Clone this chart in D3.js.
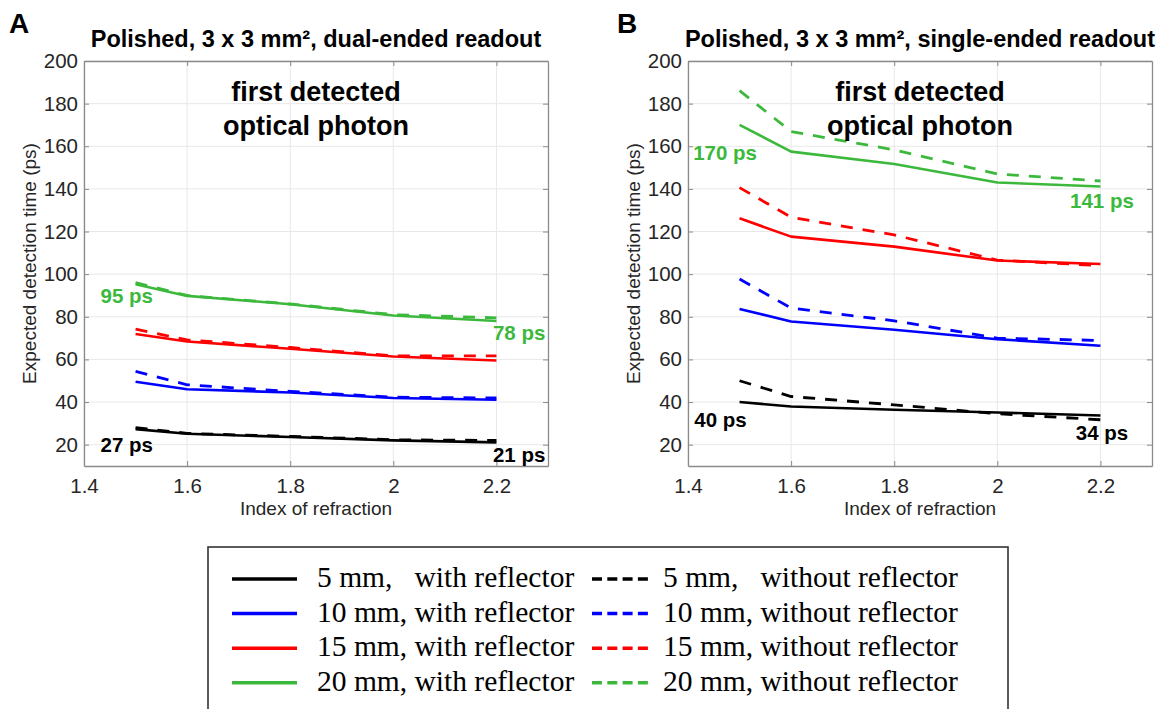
<!DOCTYPE html>
<html>
<head>
<meta charset="utf-8">
<script src="https://cdn.jsdelivr.net/npm/d3@7"></script>
<style>
  body { margin: 0; background: #fff; }
  svg text { font-family: "Liberation Sans", Arial, Helvetica, sans-serif; }
  .legend text { font-family: "Liberation Serif", "Times New Roman", serif; white-space: pre; }
</style>
</head>
<body>
<svg width="1167" height="709"></svg>
<script>
// index of refraction sampled in the simulation
const refIndex = [1.5, 1.6, 1.8, 2.0, 2.2];
const crystalLengths = ["5 mm", "10 mm", "15 mm", "20 mm"];
const seriesColors = ["#000000", "#0000ff", "#ff0000", "#3cb93c"];
const xTicks = [1.4, 1.6, 1.8, 2, 2.2];
const yTicks = [20, 40, 60, 80, 100, 120, 140, 160, 180, 200];

// expected detection time (ps), one row per crystal length
const dualWithReflector = [
  [27.3, 25.1, 23.6, 22.0, 21.1],
  [49.5, 46.0, 44.5, 41.9, 41.1],
  [71.9, 68.4, 65.0, 61.4, 59.5],
  [95.3, 89.8, 85.9, 80.6, 78.0]
];
const dualWithoutReflector = [
  [28.0, 25.3, 23.9, 22.3, 22.0],
  [54.4, 48.1, 45.0, 42.3, 41.9],
  [74.2, 69.2, 65.6, 61.7, 61.7],
  [96.0, 90.0, 86.0, 81.0, 79.5]
];
const singleWithReflector = [
  [40.0, 37.9, 36.4, 35.1, 33.7],
  [83.7, 77.8, 73.9, 69.5, 66.4],
  [126.2, 117.6, 112.9, 106.4, 104.8],
  [170.0, 157.5, 151.7, 143.0, 141.1]
];
const singleWithoutReflector = [
  [50.0, 42.6, 38.7, 34.5, 31.7],
  [97.7, 84.1, 78.1, 70.0, 68.9],
  [140.6, 126.7, 118.4, 106.6, 104.0],
  [186.1, 166.9, 158.3, 147.0, 143.7]
];

// value annotations: [x, y, text, series]
const dualLabels = [
  [1.483, 86.6, "95 ps", 3],
  [2.244, 69.2, "78 ps", 3],
  [1.483, 16.5, "27 ps", 0],
  [2.244, 11.8, "21 ps", 0]
];
const singleLabels = [
  [1.472, 153.7, "170 ps", 3],
  [2.203, 131.2, "141 ps", 3],
  [1.463, 28.4, "40 ps", 0],
  [2.203, 22.4, "34 ps", 0]
];

const svg = d3.select("svg");

function drawPanel(left, letter, letterX, title, withRef, withoutRef, labels) {
  const x = d3.scaleLinear().domain([1.4, 2.3]).range([left, left + 464]);
  const y = d3.scaleLinear().domain([10, 200]).range([466, 61]);
  const g = svg.append("g");

  // grid
  g.selectAll(".gx").data(xTicks).enter().append("line")
    .attr("x1", d => x(d)).attr("x2", d => x(d))
    .attr("y1", y(10)).attr("y2", y(200))
    .attr("stroke", "#e8e8e8").attr("stroke-width", 1);
  g.selectAll(".gy").data(yTicks).enter().append("line")
    .attr("x1", x(1.4)).attr("x2", x(2.3))
    .attr("y1", d => y(d)).attr("y2", d => y(d))
    .attr("stroke", "#e8e8e8").attr("stroke-width", 1);

  // axes, MATLAB style ticks pointing inward
  const axisStyle = sel => {
    sel.selectAll("path.domain").attr("stroke", "#8a8a8a").attr("stroke-width", 1.3);
    sel.selectAll(".tick line").attr("stroke", "#8a8a8a");
    sel.selectAll(".tick text").attr("fill", "#262626").style("font-size", "20.5px");
  };
  g.append("g").attr("transform", `translate(0,${y(10)})`)
    .call(d3.axisBottom(x).tickValues(xTicks).tickFormat(d3.format("")).tickSize(-5).tickSizeOuter(0).tickPadding(12))
    .call(axisStyle);
  g.append("g").attr("transform", `translate(0,${y(200)})`)
    .call(d3.axisTop(x).tickValues(xTicks).tickFormat("").tickSize(-5).tickSizeOuter(0))
    .call(axisStyle);
  g.append("g").attr("transform", `translate(${x(1.4)},0)`)
    .call(d3.axisLeft(y).tickValues(yTicks).tickSize(-5).tickSizeOuter(0).tickPadding(6))
    .call(axisStyle);
  g.append("g").attr("transform", `translate(${x(2.3)},0)`)
    .call(d3.axisRight(y).tickValues(yTicks).tickFormat("").tickSize(-5).tickSizeOuter(0))
    .call(axisStyle);

  // series
  const line = d3.line().x((d, i) => x(refIndex[i])).y(d => y(d));
  g.selectAll(".dashed").data(withoutRef).enter().append("path")
    .attr("d", line).attr("fill", "none")
    .attr("stroke", (d, i) => seriesColors[i])
    .attr("stroke-width", 2.8).attr("stroke-dasharray", "12,10");
  g.selectAll(".solid").data(withRef).enter().append("path")
    .attr("d", line).attr("fill", "none")
    .attr("stroke", (d, i) => seriesColors[i])
    .attr("stroke-width", 2.6).attr("stroke-linejoin", "round");

  // annotations
  g.selectAll(".val").data(labels).enter().append("text")
    .attr("x", d => x(d[0])).attr("y", d => y(d[1]))
    .attr("text-anchor", "middle")
    .attr("fill", d => seriesColors[d[3]])
    .style("font-size", "20.5px").style("font-weight", "bold")
    .text(d => d[2]);

  const cx = (x(1.4) + x(2.3)) / 2;
  g.append("text").attr("x", cx).attr("y", 101).attr("text-anchor", "middle")
    .style("font-size", "27px").style("font-weight", "bold").text("first detected");
  g.append("text").attr("x", cx).attr("y", 135).attr("text-anchor", "middle")
    .style("font-size", "27px").style("font-weight", "bold").text("optical photon");

  // titles
  g.append("text").attr("x", cx).attr("y", 47).attr("text-anchor", "middle")
    .style("font-size", "23.5px").style("font-weight", "bold").text(title);
  g.append("text").attr("x", letterX).attr("y", 33)
    .style("font-size", "28px").style("font-weight", "bold").text(letter);

  g.append("text").attr("x", cx).attr("y", 515).attr("text-anchor", "middle")
    .attr("fill", "#262626").style("font-size", "19px").text("Index of refraction");
  g.append("text")
    .attr("transform", `translate(${left - 48},${(y(10) + y(200)) / 2}) rotate(-90)`)
    .attr("text-anchor", "middle").attr("fill", "#262626")
    .style("font-size", "19px").text("Expected detection time (ps)");
}

drawPanel(84, "A", 9, "Polished, 3 x 3 mm², dual-ended readout",
  dualWithReflector, dualWithoutReflector, dualLabels);
drawPanel(688, "B", 617, "Polished, 3 x 3 mm², single-ended readout",
  singleWithReflector, singleWithoutReflector, singleLabels);

// legend
const legend = svg.append("g").attr("class", "legend");
legend.append("rect").attr("x", 208).attr("y", 547).attr("width", 800).attr("height", 180)
  .attr("fill", "none").attr("stroke", "#333").attr("stroke-width", 1.6);
const rows = legend.selectAll(".row").data(crystalLengths).enter().append("g")
  .attr("transform", (d, i) => `translate(0,${579 + i * 34.6})`);
rows.append("line").attr("x1", 232).attr("x2", 297)
  .attr("stroke", (d, i) => seriesColors[i]).attr("stroke-width", 3.5);
rows.append("text").attr("x", 317).attr("y", 8).style("font-size", "29.5px")
  .text(d => (d.length < 5 ? d + ",   " : d + ", ") + "with reflector");
rows.append("line").attr("x1", 592).attr("x2", 648)
  .attr("stroke", (d, i) => seriesColors[i]).attr("stroke-width", 3.5)
  .attr("stroke-dasharray", "10,5.3");
rows.append("text").attr("x", 663).attr("y", 8).style("font-size", "29.5px")
  .text(d => (d.length < 5 ? d + ",   " : d + ", ") + "without reflector");
</script>
</body>
</html>
